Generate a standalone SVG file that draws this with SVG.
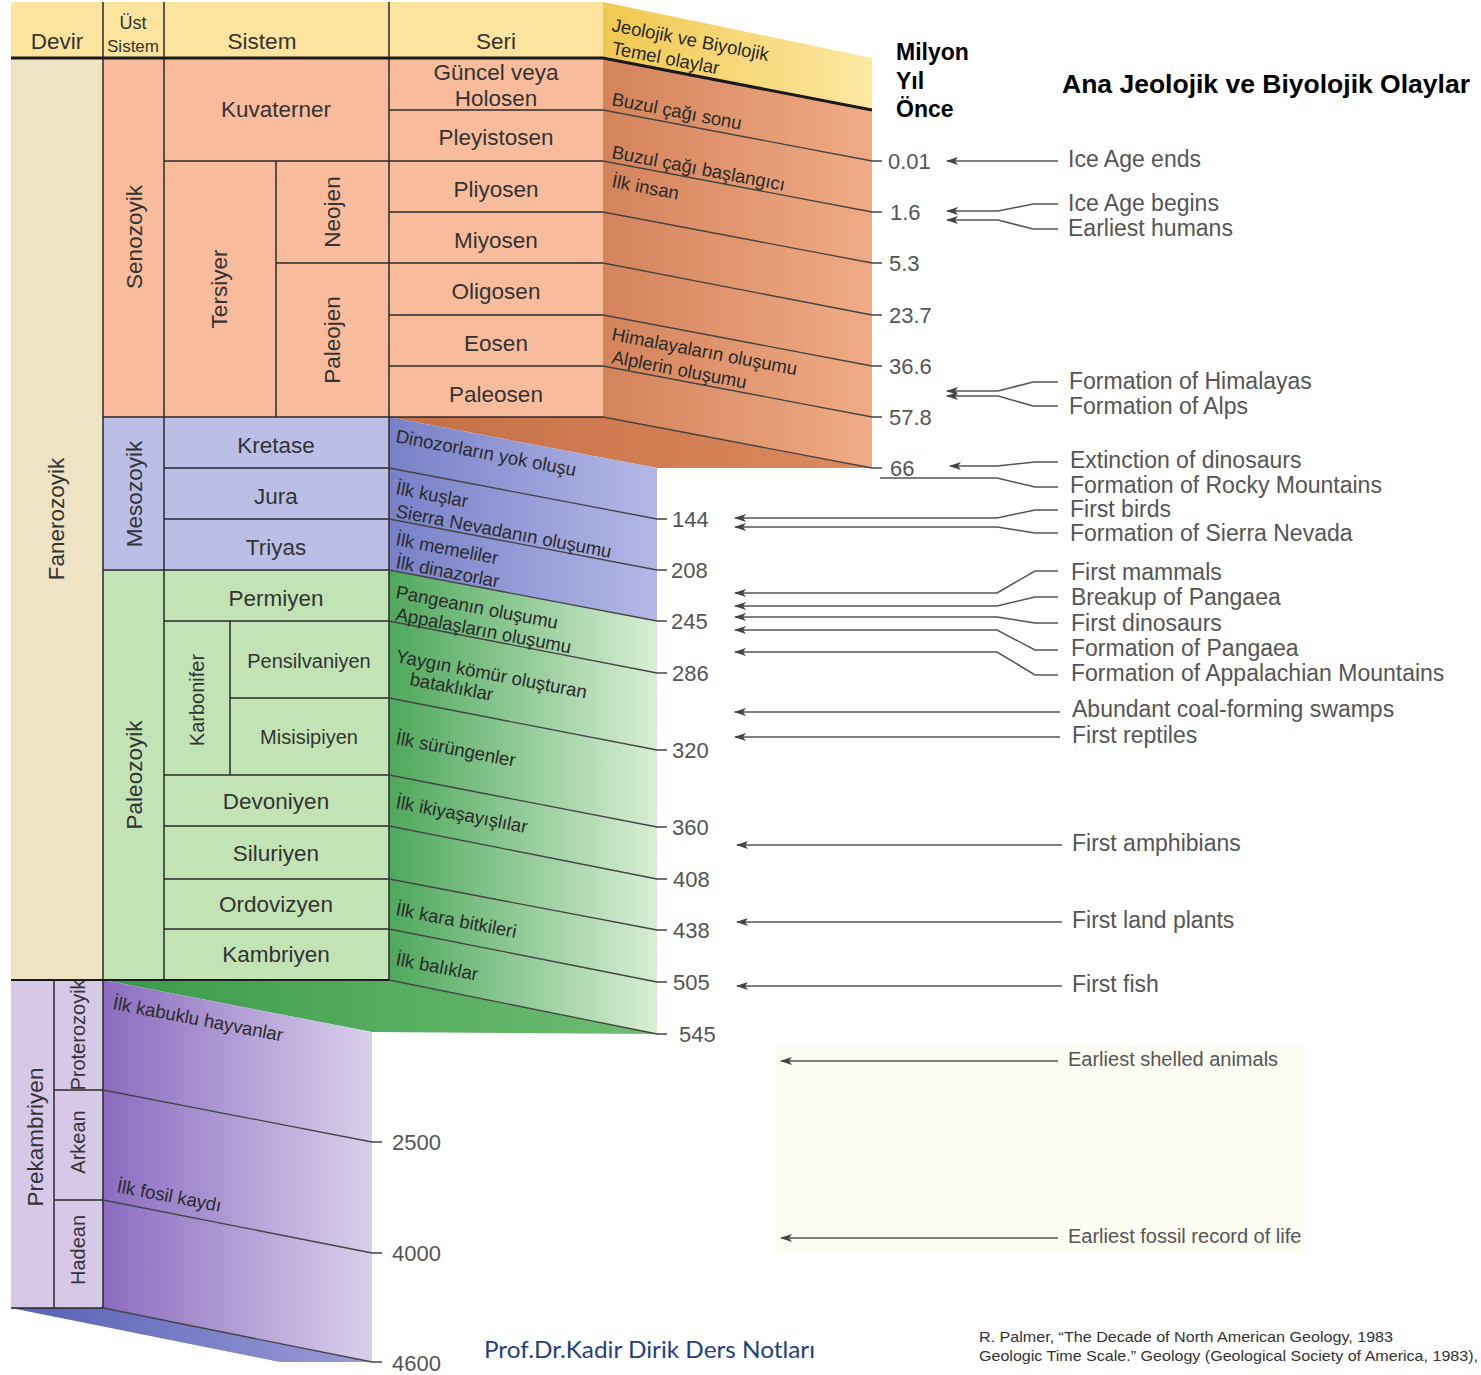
<svg xmlns="http://www.w3.org/2000/svg" width="1481" height="1375" viewBox="0 0 1481 1375">
<style>
.t{font-family:"Liberation Sans",Arial,sans-serif;fill:#333;font-size:22.5px;text-anchor:middle}
.ts{font-size:20px}
.ev{font-family:"Liberation Sans",Arial,sans-serif;fill:#2a2a2a;font-size:18.5px}
.num{font-family:"Liberation Sans",Arial,sans-serif;fill:#555;font-size:22px}
.lab{font-family:"Liberation Sans",Arial,sans-serif;fill:#555;font-size:23px}
.labs{font-size:20px}
.ln{stroke:#2a2a2a;stroke-width:1.5;fill:none}
.sl{stroke:#444;stroke-width:1.3;fill:none}
.ar{stroke:#555;stroke-width:1.5;fill:none}
.bold{font-family:"Liberation Sans",Arial,sans-serif;font-weight:bold;fill:#000}
</style>
<defs>
<linearGradient id="gHead" x1="0" x2="1" y1="0" y2="0"><stop offset="0" stop-color="#f1c850"/><stop offset="1" stop-color="#fde8a2"/></linearGradient>
<linearGradient id="gCeno" x1="0" x2="1" y1="0" y2="0"><stop offset="0" stop-color="#d4835a"/><stop offset="1" stop-color="#f0ab86"/></linearGradient>
<linearGradient id="gTopO" x1="0" x2="1" y1="0" y2="0"><stop offset="0" stop-color="#c56e45"/><stop offset="1" stop-color="#dc8a5e"/></linearGradient>
<linearGradient id="gMeso" x1="0" x2="1" y1="0" y2="0"><stop offset="0" stop-color="#7880c8"/><stop offset="1" stop-color="#b4b8e6"/></linearGradient>
<linearGradient id="gPaleo" x1="0" x2="1" y1="0" y2="0"><stop offset="0" stop-color="#4ea85c"/><stop offset="1" stop-color="#d8eed4"/></linearGradient>
<linearGradient id="gTopG" x1="0" x2="1" y1="0" y2="0"><stop offset="0" stop-color="#3a9a4a"/><stop offset="1" stop-color="#6fbd72"/></linearGradient>
<linearGradient id="gPre" x1="0" x2="1" y1="0" y2="0"><stop offset="0" stop-color="#8b6cc0"/><stop offset="1" stop-color="#d9cfeb"/></linearGradient>
<linearGradient id="gBot" x1="0" x2="1" y1="0" y2="0"><stop offset="0" stop-color="#5560b4"/><stop offset="1" stop-color="#9c9cd8"/></linearGradient>
<marker id="ah" viewBox="0 0 12 8" refX="11" refY="4" markerWidth="12" markerHeight="8" markerUnits="userSpaceOnUse" orient="auto"><path d="M0,0 L12,4 L0,8 L3,4 Z" fill="#444"/></marker>
</defs>
<rect width="1481" height="1375" fill="#fff"/>
<rect id="cream" x="776" y="1046" width="529" height="208" fill="#fdfcf3"/>

<!-- slanted panels -->
<g id="panels">
<polygon points="603,2 872,58 872,110 603,58" fill="url(#gHead)"/>
<polygon points="603,58 872,110 872,468 603,417" fill="url(#gCeno)"/>
<polygon points="389,417 603,417 872,468 657,468" fill="url(#gTopO)"/>
<polygon points="389,417 657,468 657,621 389,570" fill="url(#gMeso)"/>
<polygon points="389,570 657,621 657,1034 389,980" fill="url(#gPaleo)"/>
<polygon points="103,980 389,980 657,1034 372,1032" fill="url(#gTopG)"/>
<polygon points="103,980 372,1032 372,1362 103,1308" fill="url(#gPre)"/>
<polygon points="11,1308 103,1308 372,1362 280,1362" fill="url(#gBot)"/>
</g>

<!-- front table -->
<g id="header">
<rect x="11" y="2" width="592" height="56" fill="#fde49e"/>
<text class="t" x="57" y="49">Devir</text>
<text class="t" x="133" y="29" style="font-size:18px">Üst</text>
<text class="t" x="133" y="52" style="font-size:17px">Sistem</text>
<text class="t" x="262" y="49">Sistem</text>
<text class="t" x="496" y="49">Seri</text>
</g>
<g id="fanerozoyik">
<rect x="11" y="58" width="92" height="922" fill="#eee3c3"/>
<text class="t" transform="translate(64,519) rotate(-90)">Fanerozoyik</text>
</g>
<g id="senozoyik">
<rect x="103" y="58" width="500" height="359" fill="#f8bb9c"/>
<text class="t" transform="translate(142,237) rotate(-90)">Senozoyik</text>
<text class="t" x="276" y="117">Kuvaterner</text>
<text class="t" transform="translate(227,289) rotate(-90)">Tersiyer</text>
<text class="t" transform="translate(340,212) rotate(-90)">Neojen</text>
<text class="t" transform="translate(340,340) rotate(-90)">Paleojen</text>
<text class="t" x="496" y="80">Güncel veya</text>
<text class="t" x="496" y="106">Holosen</text>
<text class="t" x="496" y="145">Pleyistosen</text>
<text class="t" x="496" y="197">Pliyosen</text>
<text class="t" x="496" y="248">Miyosen</text>
<text class="t" x="496" y="299">Oligosen</text>
<text class="t" x="496" y="351">Eosen</text>
<text class="t" x="496" y="402">Paleosen</text>
</g>
<g id="mesozoyik">
<rect x="103" y="417" width="286" height="153" fill="#bbbfe8"/>
<text class="t" transform="translate(142,494) rotate(-90)">Mesozoyik</text>
<text class="t" x="276" y="453">Kretase</text>
<text class="t" x="276" y="504">Jura</text>
<text class="t" x="276" y="555">Triyas</text>
</g>
<g id="paleozoyik">
<rect x="103" y="570" width="286" height="410" fill="#c2e3b4"/>
<text class="t" transform="translate(142,775) rotate(-90)">Paleozoyik</text>
<text class="t" x="276" y="606">Permiyen</text>
<text class="t ts" transform="translate(204,700) rotate(-90)">Karbonifer</text>
<text class="t ts" x="309" y="668">Pensilvaniyen</text>
<text class="t ts" x="309" y="744">Misisipiyen</text>
<text class="t" x="276" y="809">Devoniyen</text>
<text class="t" x="276" y="861">Siluriyen</text>
<text class="t" x="276" y="912">Ordovizyen</text>
<text class="t" x="276" y="962">Kambriyen</text>
</g>
<g id="prekambriyen">
<rect x="11" y="980" width="92" height="328" fill="#d7c8e8"/>
<text class="t" transform="translate(43,1137) rotate(-90)">Prekambriyen</text>
<text class="t ts" transform="translate(85,1035) rotate(-90)">Proterozoyik</text>
<text class="t ts" transform="translate(85,1142) rotate(-90)">Arkean</text>
<text class="t ts" transform="translate(85,1250) rotate(-90)">Hadean</text>
</g>

<!-- table grid lines -->
<g id="grid">
<path class="ln" d="M103,2 V980 M164,2 V980 M389,2 V980 M276,161 V417 M230,621 V775"/>
<path class="ln" d="M164,161 H603 M389,110 H603 M389,212 H603 M389,263 H603 M389,315 H603 M389,366 H603 M276,263 H389"/>
<path class="ln" d="M103,417 H603 M164,468 H389 M164,519 H389 M103,570 H389"/>
<path class="ln" d="M164,621 H389 M230,698 H389 M164,775 H389 M164,826 H389 M164,879 H389 M164,929 H389"/>
<path class="ln" d="M54,980 V1308 M103,980 V1308 M54,1090 H103 M54,1200 H103 M11,1308 H103"/>
<path d="M11,58 H603 L872,110" stroke="#1a1a1a" stroke-width="3" fill="none"/>
<path d="M11,980 H389" stroke="#1a1a1a" stroke-width="2.2" fill="none"/>
</g>

<!-- slanted boundary lines with ticks -->
<g id="timelines">
<path class="sl" d="M603,110 L872,161 H882 M603,161 L872,212 H882 M603,212 L872,263 H882 M603,263 L872,315 H882 M603,315 L872,366 H882 M603,366 L872,417 H882 M603,417 L872,468 H882"/>
<path class="sl" d="M389,468 L657,519 H667 M389,519 L657,570 H667 M389,570 L657,621 H667 M389,621 L657,673 H667 M389,698 L657,750 H667 M389,775 L657,827 H667 M389,826 L657,879 H667 M389,879 L657,930 H667 M389,929 L657,982 H667 M389,980 L657,1034 H667"/>
<path class="sl" d="M103,1090 L372,1142 H382 M103,1200 L372,1253 H382 M103,1308 L372,1362 H382"/>
</g>

<!-- panel event texts -->
<g id="panel-events">
<text class="ev" transform="translate(611,31) rotate(10.8)">Jeolojik ve Biyolojik</text>
<text class="ev" transform="translate(611,54) rotate(10.8)">Temel olaylar</text>
<text class="ev" transform="translate(611,105) rotate(10.8)">Buzul çağı sonu</text>
<text class="ev" transform="translate(611,158) rotate(10.8)">Buzul çağı başlangıcı</text>
<text class="ev" transform="translate(611,187) rotate(10.8)">İlk insan</text>
<text class="ev" transform="translate(611,340) rotate(10.8)">Himalayaların oluşumu</text>
<text class="ev" transform="translate(611,363) rotate(10.8)">Alplerin oluşumu</text>
<text class="ev" transform="translate(395,442) rotate(10.8)">Dinozorların yok oluşu</text>
<text class="ev" transform="translate(395,494) rotate(10.8)">İlk kuşlar</text>
<text class="ev" transform="translate(395,517) rotate(10.8)">Sierra Nevadanın oluşumu</text>
<text class="ev" transform="translate(395,545) rotate(10.8)">İlk memeliler</text>
<text class="ev" transform="translate(395,568) rotate(10.8)">İlk dinazorlar</text>
<text class="ev" transform="translate(395,598) rotate(10.8)">Pangeanın oluşumu</text>
<text class="ev" transform="translate(395,620) rotate(10.8)">Appalaşların oluşumu</text>
<text class="ev" transform="translate(395,662) rotate(10.8)">Yaygın kömür oluşturan</text>
<text class="ev" transform="translate(409,685) rotate(10.8)">bataklıklar</text>
<text class="ev" transform="translate(395,744) rotate(10.8)">İlk sürüngenler</text>
<text class="ev" transform="translate(395,808) rotate(10.8)">İlk ikiyaşayışlılar</text>
<text class="ev" transform="translate(395,915) rotate(10.8)">İlk kara bitkileri</text>
<text class="ev" transform="translate(395,965) rotate(10.8)">İlk balıklar</text>
<text class="ev" transform="translate(112,1009) rotate(10.8)">İlk kabuklu hayvanlar</text>
<text class="ev" transform="translate(116,1192) rotate(10.8)">İlk fosil kaydı</text>
</g>

<!-- ages -->
<g id="ages">
<text class="num" x="888" y="169">0.01</text>
<text class="num" x="890" y="220">1.6</text>
<text class="num" x="889" y="271">5.3</text>
<text class="num" x="889" y="323">23.7</text>
<text class="num" x="889" y="374">36.6</text>
<text class="num" x="889" y="425">57.8</text>
<text class="num" x="890" y="476">66</text>
<text class="num" x="672" y="527">144</text>
<text class="num" x="671" y="578">208</text>
<text class="num" x="671" y="629">245</text>
<text class="num" x="672" y="681">286</text>
<text class="num" x="672" y="758">320</text>
<text class="num" x="672" y="835">360</text>
<text class="num" x="673" y="887">408</text>
<text class="num" x="673" y="938">438</text>
<text class="num" x="673" y="990">505</text>
<text class="num" x="679" y="1042">545</text>
<text class="num" x="392" y="1150">2500</text>
<text class="num" x="392" y="1261">4000</text>
<text class="num" x="392" y="1371">4600</text>
</g>

<!-- connectors -->
<g id="connectors">
<path class="ar" marker-end="url(#ah)" d="M1058,161 H947"/>
<path class="ar" marker-end="url(#ah)" d="M1058,204 H1033 L998,211 H947"/>
<path class="ar" marker-end="url(#ah)" d="M1058,229 H1033 L998,220 H947"/>
<path class="ar" marker-end="url(#ah)" d="M1058,382 H1033 L998,391 H947"/>
<path class="ar" marker-end="url(#ah)" d="M1058,406 H1033 L998,396 H947"/>
<path class="ar" marker-end="url(#ah)" d="M1058,462 H1035 L997,466 H950"/>
<path class="ar" d="M1058,487 H1035 L997,478 H880"/>
<path class="ar" marker-end="url(#ah)" d="M1058,510 H1035 L997,518 H735"/>
<path class="ar" marker-end="url(#ah)" d="M1058,533 H1035 L997,527 H735"/>
<path class="ar" marker-end="url(#ah)" d="M1058,571 H1035 L997,593 H735"/>
<path class="ar" marker-end="url(#ah)" d="M1058,597 H1035 L997,606 H735"/>
<path class="ar" marker-end="url(#ah)" d="M1058,623 H1035 L997,617 H735"/>
<path class="ar" marker-end="url(#ah)" d="M1058,650 H1035 L997,630 H735"/>
<path class="ar" marker-end="url(#ah)" d="M1058,675 H1035 L997,652 H735"/>
<path class="ar" marker-end="url(#ah)" d="M1060,712 H735"/>
<path class="ar" marker-end="url(#ah)" d="M1060,737 H735"/>
<path class="ar" marker-end="url(#ah)" d="M1062,845 H737"/>
<path class="ar" marker-end="url(#ah)" d="M1062,922 H737"/>
<path class="ar" marker-end="url(#ah)" d="M1062,986 H737"/>
<path class="ar" marker-end="url(#ah)" d="M1058,1061 H781"/>
<path class="ar" marker-end="url(#ah)" d="M1058,1238 H781"/>
</g>

<!-- event labels -->
<g id="labels">
<text class="lab" x="1068" y="167">Ice Age ends</text>
<text class="lab" x="1068" y="211">Ice Age begins</text>
<text class="lab" x="1068" y="236">Earliest humans</text>
<text class="lab" x="1069" y="389">Formation of Himalayas</text>
<text class="lab" x="1069" y="414">Formation of Alps</text>
<text class="lab" x="1070" y="468">Extinction of dinosaurs</text>
<text class="lab" x="1070" y="493">Formation of Rocky Mountains</text>
<text class="lab" x="1070" y="517">First birds</text>
<text class="lab" x="1070" y="541">Formation of Sierra Nevada</text>
<text class="lab" x="1071" y="580">First mammals</text>
<text class="lab" x="1071" y="605">Breakup of Pangaea</text>
<text class="lab" x="1071" y="631">First dinosaurs</text>
<text class="lab" x="1071" y="656">Formation of Pangaea</text>
<text class="lab" x="1071" y="681">Formation of Appalachian Mountains</text>
<text class="lab" x="1072" y="717">Abundant coal-forming swamps</text>
<text class="lab" x="1072" y="743">First reptiles</text>
<text class="lab" x="1072" y="851">First amphibians</text>
<text class="lab" x="1072" y="928">First land plants</text>
<text class="lab" x="1072" y="992">First fish</text>
<text class="lab labs" x="1068" y="1066">Earliest shelled animals</text>
<text class="lab labs" x="1068" y="1243">Earliest fossil record of life</text>
</g>

<!-- titles -->
<g id="titles">
<text class="bold" x="896" y="60" font-size="23">Milyon</text>
<text class="bold" x="896" y="89" font-size="23">Yıl</text>
<text class="bold" x="896" y="117" font-size="23">Önce</text>
<text class="bold" x="1062" y="93" font-size="26" textLength="408" lengthAdjust="spacingAndGlyphs">Ana Jeolojik ve Biyolojik Olaylar</text>
</g>
<g id="footer">
<text x="484" y="1358" font-family="Lato,'Open Sans',sans-serif" font-size="23" fill="#1f3f7f" textLength="331" lengthAdjust="spacingAndGlyphs">Prof.Dr.Kadir Dirik Ders Notları</text>
<text x="979" y="1342" font-family="'Liberation Sans',Arial,sans-serif" font-size="14.5" fill="#333" textLength="414" lengthAdjust="spacingAndGlyphs">R. Palmer, “The Decade of North American Geology, 1983</text>
<text x="979" y="1361" font-family="'Liberation Sans',Arial,sans-serif" font-size="14.5" fill="#333" textLength="499" lengthAdjust="spacingAndGlyphs">Geologic Time Scale.” Geology (Geological Society of America, 1983),</text>
</g>
</svg>
